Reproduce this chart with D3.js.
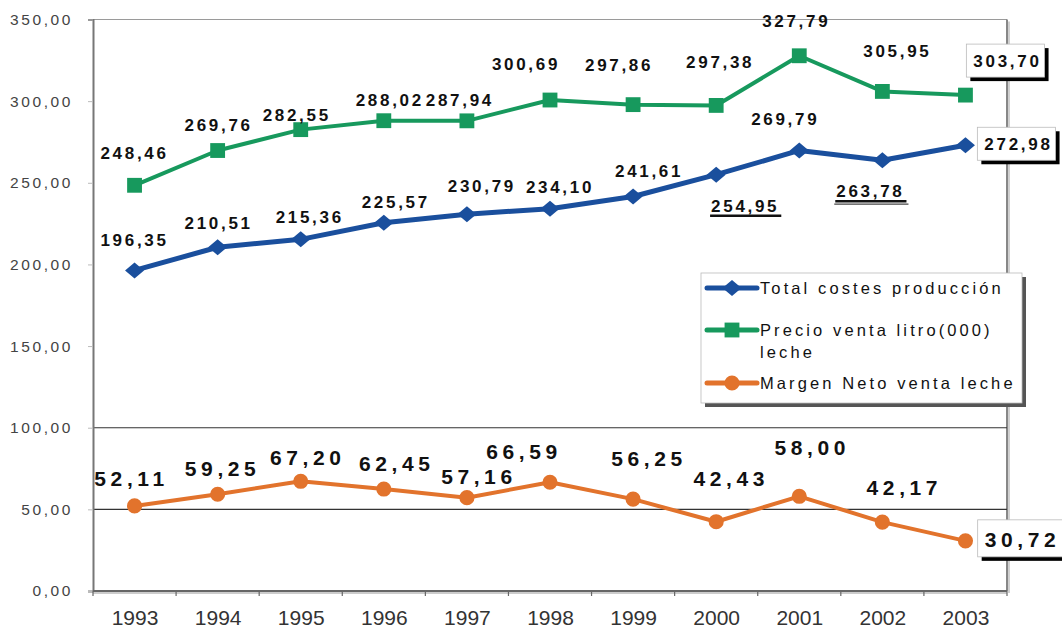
<!DOCTYPE html>
<html>
<head>
<meta charset="utf-8">
<script src="https://cdn.jsdelivr.net/npm/d3@7"></script>
<style>
  body { margin: 0; background: #fff; }
  svg { display: block; font-family: "Liberation Sans", Arial, sans-serif; }
</style>
</head>
<body>
<div id="chart"></div>
<script>
"use strict";

// Data
const years = ["1993", "1994", "1995", "1996", "1997", "1998", "1999", "2000", "2001", "2002", "2003"];
const totalCostes = [196.35, 210.51, 215.36, 225.57, 230.79, 234.10, 241.61, 254.95, 269.79, 263.78, 272.98];
const precioVenta = [248.46, 269.76, 282.55, 288.02, 287.94, 300.69, 297.86, 297.38, 327.79, 305.95, 303.70];
const margenNeto = [52.11, 59.25, 67.20, 62.45, 57.16, 66.59, 56.25, 42.43, 58.00, 42.17, 30.72];
const yTicks = [0, 50, 100, 150, 200, 250, 300, 350];
const gridValues = [50, 100];
const legendNames = [["Total costes producción"], ["Precio venta litro(000)", "leche"], ["Margen Neto venta leche"]];

// Hand placed label offsets [dx, dy] from each point (as in the original sheet)
const costesNudge = [[0, -24], [1, -18], [9, -16], [12, -15], [15, -22], [10, -16], [16, -19], [29, 37], [-14, -25], [-12, 37], [53, 5]];
const precioNudge = [[0, -26], [1, -20], [-4, -9], [6, -15], [-7, -15], [-24, -30], [-14, -34], [4, -37], [-3, -29], [15, -34], [42, -28]];
const margenNudge = [[-3, -20], [5, -18], [7, -16], [13, -18], [12, -14], [-26, -23], [16, -33], [15, -36], [13, -41], [22, -27], [57, 6]];

const width = 1062;
const height = 632;
const plot = { left: 93, right: 1007, top: 19.5, bottom: 591 };

const svg = d3.select("#chart")
  .append("svg")
  .attr("width", width)
  .attr("height", height);

const x = d3.scalePoint()
  .domain(years)
  .range([plot.left, plot.right])
  .padding(0.5);

const y = d3.scaleLinear()
  .domain([0, 350])
  .range([plot.bottom, plot.top]);

const fmt = v => v.toFixed(2).replace(".", ",");

// Frame (top and right borders)
svg.append("line")
  .attr("x1", plot.left).attr("x2", plot.right)
  .attr("y1", plot.top).attr("y2", plot.top)
  .attr("stroke", "#9a9a9a").attr("stroke-width", 1.2);
svg.append("line")
  .attr("x1", plot.right + 2).attr("x2", plot.right + 2)
  .attr("y1", plot.top + 2).attr("y2", plot.bottom + 2)
  .attr("stroke", "#d0d0d0").attr("stroke-width", 2);
svg.append("line")
  .attr("x1", plot.right).attr("x2", plot.right)
  .attr("y1", plot.top).attr("y2", plot.bottom)
  .attr("stroke", "#7a7a7a").attr("stroke-width", 1.8);

// Grid lines at 50 and 100
svg.append("g")
  .selectAll("line")
  .data(gridValues)
  .join("line")
  .attr("x1", plot.left).attr("x2", plot.right)
  .attr("y1", d => y(d)).attr("y2", d => y(d))
  .attr("stroke", "#333").attr("stroke-width", 1.1);

// Y axis
const yAxis = svg.append("g")
  .attr("transform", `translate(${plot.left},0)`)
  .call(d3.axisLeft(y).tickValues(yTicks).tickFormat(fmt).tickSize(5).tickPadding(15));
yAxis.select(".domain").attr("stroke", "#777").attr("stroke-width", 2);
yAxis.selectAll(".tick line").attr("stroke", "#bbb");
yAxis.selectAll("text")
  .attr("fill", "#444")
  .style("font-size", "15.5px")
  .style("letter-spacing", "2.6px");

// X axis
const xAxis = svg.append("g")
  .attr("transform", `translate(0,${plot.bottom})`)
  .call(d3.axisBottom(x).tickSize(0).tickPadding(19));
xAxis.select(".domain").remove();
svg.append("line")
  .attr("x1", plot.left).attr("x2", plot.right)
  .attr("y1", plot.bottom + 2).attr("y2", plot.bottom + 2)
  .attr("stroke", "#ccc").attr("stroke-width", 2);
svg.append("line")
  .attr("x1", plot.left).attr("x2", plot.right)
  .attr("y1", plot.bottom).attr("y2", plot.bottom)
  .attr("stroke", "#666").attr("stroke-width", 2);
// category boundary ticks
const step = x.step();
svg.append("g")
  .selectAll("line")
  .data(years.concat(["end"]))
  .join("line")
  .attr("x1", (d, i) => plot.left + i * step)
  .attr("x2", (d, i) => plot.left + i * step)
  .attr("y1", plot.bottom).attr("y2", plot.bottom + 5)
  .attr("stroke", "#666").attr("stroke-width", 1.2);
xAxis.selectAll("text")
  .attr("fill", "#333")
  .style("font-family", "'Liberation Sans Narrow', 'Arial Narrow', sans-serif")
  .style("font-size", "21px");

// Series definitions
const series = [
  { values: precioVenta, color: "#17995d", width: 4, marker: "square", nudge: precioNudge, font: 17, spacing: 2.7 },
  { values: totalCostes, color: "#1a4f9d", width: 5, marker: "diamond", nudge: costesNudge, font: 17, spacing: 2.7 },
  { values: margenNeto, color: "#e2732c", width: 4, marker: "circle", nudge: margenNudge, font: 21, spacing: 4.6 }
];

const markerPath = {
  diamond: "M0,-8L9.5,0L0,8L-9.5,0Z",
  square: d3.symbol(d3.symbolSquare, 220)(),
  circle: d3.symbol(d3.symbolCircle, 180)()
};

const line = d3.line()
  .x((d, i) => x(years[i]))
  .y(d => y(d));

series.forEach(s => {
  svg.append("path")
    .datum(s.values)
    .attr("fill", "none")
    .attr("stroke", s.color)
    .attr("stroke-width", s.width)
    .attr("stroke-linejoin", "round")
    .attr("d", line);

  svg.append("g")
    .selectAll("path")
    .data(s.values)
    .join("path")
    .attr("transform", (d, i) => `translate(${x(years[i])},${y(d)})`)
    .attr("d", markerPath[s.marker])
    .attr("fill", s.color);
});

// Data labels
series.forEach(s => {
  s.values.forEach((v, i) => {
    const cx = x(years[i]) + s.nudge[i][0];
    const by = y(v) + s.nudge[i][1];
    const boxed = i === s.values.length - 1;
    const g = svg.append("g");
    const t = g.append("text")
      .attr("x", cx)
      .attr("y", by)
      .attr("text-anchor", "middle")
      .attr("fill", "#111")
      .style("font-weight", "bold")
      .style("font-size", s.font + "px")
      .style("letter-spacing", s.spacing + "px")
      .text(fmt(v));
    const bb = t.node().getBBox();
    if (boxed) {
      const bx = bb.x - 7;
      const bw = bb.width + 10;
      const byTop = bb.y - 8;
      const bh = bb.height + 14;
      g.insert("rect", "text")
        .attr("x", bx + 4).attr("y", byTop + 4)
        .attr("width", bw).attr("height", bh)
        .attr("fill", "#000");
      g.insert("rect", "text")
        .attr("x", bx).attr("y", byTop)
        .attr("width", bw).attr("height", bh)
        .attr("fill", "#fff")
        .attr("stroke", "#bbb").attr("stroke-width", 0.8);
    }
    // underlined labels of the cost series (2000 single, 2002 double)
    if (s.values === totalCostes && (i === 7 || i === 9)) {
      g.append("line")
        .attr("x1", bb.x - 1).attr("x2", bb.x + bb.width + 2)
        .attr("y1", by + 4).attr("y2", by + 4)
        .attr("stroke", "#111").attr("stroke-width", 2.4);
      if (i === 9) {
        g.append("line")
          .attr("x1", bb.x - 2).attr("x2", bb.x + bb.width + 4)
          .attr("y1", by + 6.8).attr("y2", by + 6.8)
          .attr("stroke", "#444").attr("stroke-width", 1.2);
      }
    }
  });
});

// Legend
const legend = svg.append("g").attr("transform", "translate(701,273)");
legend.append("rect")
  .attr("x", 4).attr("y", 4)
  .attr("width", 321).attr("height", 130)
  .attr("fill", "#555");
legend.append("rect")
  .attr("width", 321).attr("height", 130)
  .attr("fill", "#fff")
  .attr("stroke", "#bbb").attr("stroke-width", 0.8);

const legendOrder = [
  { s: series[1], y: 15 },
  { s: series[0], y: 57 },
  { s: series[2], y: 110 }
];
legendOrder.forEach((e, k) => {
  const row = legend.append("g").attr("transform", `translate(0,${e.y})`);
  row.append("line")
    .attr("x1", 6).attr("x2", 56)
    .attr("stroke", e.s.color)
    .attr("stroke-width", 5)
    .attr("stroke-linecap", "round");
  row.append("path")
    .attr("transform", "translate(31,0)")
    .attr("d", markerPath[e.s.marker])
    .attr("fill", e.s.color);
  row.selectAll("text")
    .data(legendNames[k])
    .join("text")
    .attr("x", 59)
    .attr("y", (d, j) => 6 + j * 22)
    .attr("fill", "#111")
    .style("font-size", "16.5px")
    .style("letter-spacing", "3.1px")
    .text(d => d);
});
</script>
</body>
</html>
